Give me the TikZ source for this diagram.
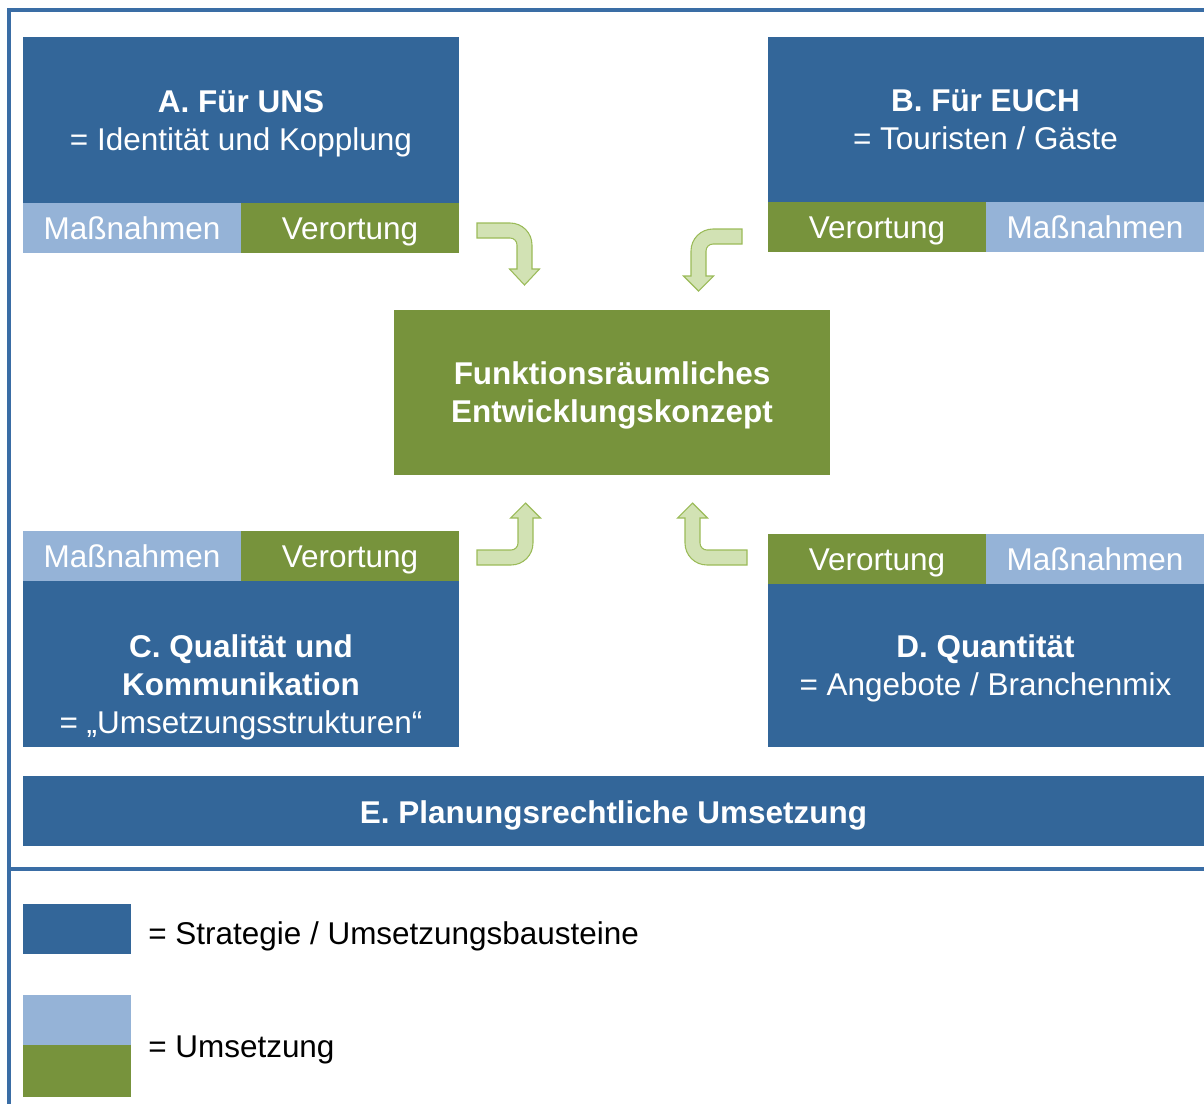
\documentclass[tikz,border=0pt]{standalone}
\usepackage{fontspec}
\setmainfont{Liberation Sans}
\usetikzlibrary{positioning,calc}
\definecolor{stratblue}{HTML}{336699}
\definecolor{umsblue}{HTML}{95B3D7}
\definecolor{umsgreen}{HTML}{77933C}
\definecolor{bendfill}{HTML}{D2E2B4}
\definecolor{bendline}{HTML}{9BBB59}
\definecolor{frameblue}{HTML}{3A6DA5}
\newcommand{\bigfont}{\fontsize{23.6}{28.5}\selectfont}
\newcommand{\topstrut}{\rule{0pt}{0.95em}}
\newcommand{\botstrut}{\rule[-0.25em]{0pt}{0.25em}}

\begin{document}
\begin{tikzpicture}[x=0.75pt, y=-0.75pt,
  box/.style={rectangle, fill=stratblue, text=white, align=center, font=\bigfont, inner sep=0pt, minimum width=327pt},
  bar/.style={rectangle, text=white, font=\bigfont, inner sep=0pt, minimum width=163.5pt, minimum height=37.5pt, text height=22.8pt, text depth=5.9pt},
  mass/.style={bar, fill=umsblue},
  vort/.style={bar, fill=umsgreen},
  bendarrow/.style={fill=bendfill, draw=bendline, line width=0.8pt, line join=miter},
  frameline/.style={draw=frameblue, line width=3pt},
  legendtext/.style={font=\bigfont, anchor=base west, inner sep=0pt},
  legendbox/.style={rectangle, minimum width=81pt, inner sep=0pt},
]
\useasboundingbox (0,0) rectangle (1204,1104);

% === frame ===
\draw[frameline] (1204,10) -- (9,10) -- (9,1104);
\draw[frameline] (9,868.5) -- (1204,868.5);

% === A ===
\node[box, minimum height=124.5pt] (A) at (241,120) {\topstrut\textbf{A. Für UNS}\\= Identität und Kopplung\botstrut};
\node[mass] (Am) at (132,228) {Maßnahmen};
\node[vort] (Av) at (350,228) {Verortung};

% === B ===
\node[box, minimum height=123.75pt] (B) at (985.5,119.5) {\topstrut\textbf{B. Für EUCH}\\= Touristen / Gäste\botstrut};
\node[vort] (Bv) at (877,227) {Verortung};
\node[mass] (Bm) at (1095,227) {Maßnahmen};

% === Entwicklungskonzept ===
\node[box, fill=umsgreen, minimum height=123.75pt] (F) at (612,392.5) {\topstrut\textbf{Funktionsräumliches}\\\textbf{Entwicklungskonzept}\botstrut};

% === C ===
\node[mass] (Cm) at (132,556) {Maßnahmen};
\node[vort] (Cv) at (350,556) {Verortung};
\node[box, minimum height=124.5pt] (C) at (241,664) {};
\node[align=center, text=white, font=\bigfont, inner sep=0pt] (Ct) at (241,684) {\topstrut\textbf{C. Qualität und}\\\textbf{Kommunikation}\\= „Umsetzungsstrukturen“\botstrut};

% === D ===
\node[vort] (Dv) at (877,559) {Verortung};
\node[mass] (Dm) at (1095,559) {Maßnahmen};
\node[box, minimum height=122.25pt] (D) at (985.5,665.5) {\topstrut\textbf{D. Quantität}\\= Angebote / Branchenmix\botstrut};

% === E ===
\node[box, minimum width=885.75pt, minimum height=52.5pt, text height=24.9pt, text depth=5.9pt] (E) at (613.5,811) {\textbf{E. Planungsrechtliche Umsetzung}};

% === bent arrows ===
\draw[bendarrow] (477,223) -- (510,223) .. controls (522.2,223) and (532,232.8) .. (532,245)
  -- (532,269) -- (539.5,269) -- (524.5,285) -- (509.5,269) -- (517,269) -- (517,245)
  .. controls (517,241.1) and (513.9,238) .. (510,238) -- (477,238) -- cycle;
\draw[bendarrow] (742,229) -- (713,229) .. controls (700.8,229) and (691,238.8) .. (691,251)
  -- (691,276) -- (683.5,276) -- (698.5,291) -- (713.5,276) -- (706,276) -- (706,251)
  .. controls (706,247.1) and (709.1,244) .. (713,244) -- (742,244) -- cycle;
\draw[bendarrow] (477,565) -- (511,565) .. controls (523.2,565) and (533,555.2) .. (533,543)
  -- (533,518) -- (540.5,518) -- (525.5,503) -- (510.5,518) -- (518,518) -- (518,543)
  .. controls (518,546.9) and (514.9,550) .. (511,550) -- (477,550) -- cycle;
\draw[bendarrow] (747,565) -- (707,565) .. controls (694.8,565) and (685,555.2) .. (685,543)
  -- (685,518) -- (677.5,518) -- (692.5,503) -- (707.5,518) -- (700,518) -- (700,543)
  .. controls (700,546.9) and (703.1,550) .. (707,550) -- (747,550) -- cycle;

% === legend ===
\node[legendbox, fill=stratblue, minimum height=37.5pt] (Lb) at (77,929) {};
\node[legendtext] (Lbt) at (148,944.3) {= Strategie / Umsetzungsbausteine};
\node[legendbox, fill=umsblue, minimum height=37.5pt] (Lm) at (77,1020) {};
\node[legendbox, fill=umsgreen, minimum height=39pt] (Lv) at (77,1071) {};
\node[legendtext] (Lut) at (148,1057.3) {= Umsetzung};

\end{tikzpicture}
\end{document}
